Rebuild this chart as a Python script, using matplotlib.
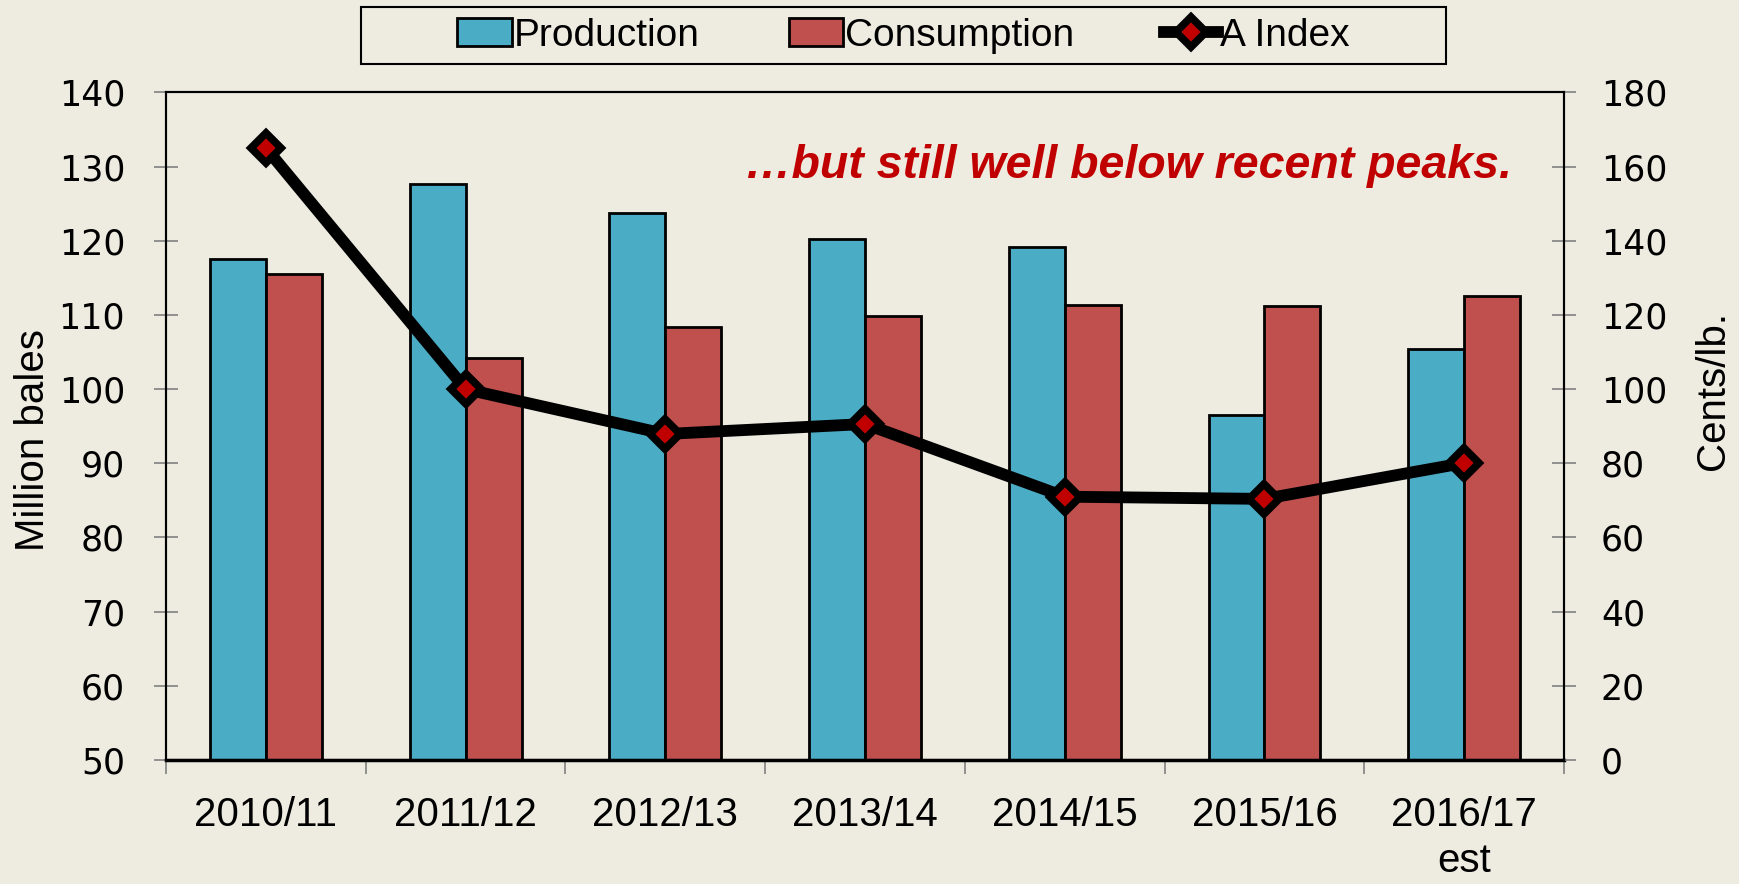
import matplotlib
matplotlib.use("Agg")
import matplotlib.pyplot as plt
import numpy as np
from matplotlib.patches import Patch, Rectangle
from matplotlib.lines import Line2D
from matplotlib.ticker import FixedLocator, NullFormatter

# data
seasons = ["2010/11", "2011/12", "2012/13", "2013/14", "2014/15", "2015/16", "2016/17\nest"]
production = [117.6, 127.6, 123.8, 120.3, 119.2, 96.5, 105.4]
consumption = [115.5, 104.2, 108.4, 109.8, 111.4, 111.2, 112.5]
a_index = [165.0, 100.0, 87.9, 90.6, 71.0, 70.4, 80.1]

bg = "#EEECE1"
blue = "#4BACC6"
red = "#C0504D"
label_font = "Liberation Sans"

fig = plt.figure(figsize=(17.39, 8.84), dpi=100, facecolor=bg)
ax = fig.add_axes([0.0955, 0.1403, 0.8039, 0.7551])
ax.set_facecolor(bg)
ax2 = ax.twinx()

x = np.arange(len(seasons))
w = 0.28
ax.bar(x - w / 2, production, w, bottom=0, color=blue, edgecolor="black", linewidth=2, zorder=2)
ax.bar(x + w / 2, consumption, w, bottom=0, color=red, edgecolor="black", linewidth=2, zorder=2)
ax.set_ylim(50, 140)
ax.set_xlim(-0.5, len(seasons) - 0.5)

ax2.plot(x, a_index, color="black", linewidth=8.5, marker="D", markersize=15,
         markerfacecolor="#C00000", markeredgecolor="black", markeredgewidth=5.5,
         solid_joinstyle="round", zorder=5)
ax2.set_ylim(0, 180)

# ticks
ax.set_yticks(np.arange(50, 141, 10))
ax2.set_yticks(np.arange(0, 181, 20))
for a in (ax, ax2):
    a.tick_params(axis="y", direction="inout", length=17, width=1.2, color="#808080",
                  labelsize=25)
    for s in a.spines.values():
        s.set_color("black")
        s.set_linewidth(1.5)
ax.tick_params(axis="y", pad=21)
ax2.tick_params(axis="y", pad=18)
ax.spines["bottom"].set_linewidth(2.5)

ax.set_xticks(x)
ax.set_xticklabels(seasons, fontsize=29, family=label_font, linespacing=1.25)
ax.tick_params(axis="x", length=0, pad=26)
ax.xaxis.set_minor_locator(FixedLocator(np.arange(-0.5, len(seasons), 1.0)))
ax.xaxis.set_minor_formatter(NullFormatter())
ax.tick_params(axis="x", which="minor", direction="out", length=10, width=1.2, color="#808080")

fig.text(0.019, 0.502, "Million bales", rotation=90, ha="center", va="center",
         fontsize=29, family=label_font)
fig.text(0.985, 0.558, "Cents/lb.", rotation=90, ha="center", va="center",
         fontsize=29, family=label_font)

ax.set_zorder(ax2.get_zorder() - 1)
ax2.patch.set_visible(False)
ax.patch.set_visible(True)

ax.text(0.963, 0.89, "\u2026but still well below recent peaks.", transform=ax.transAxes,
        ha="right", va="center", fontsize=33.5, fontweight="bold", fontstyle="italic",
        color="#C00000", family=label_font, zorder=10)

# legend box drawn on its own so it can be wider than the entries
fig.patches.append(Rectangle((0.2076, 0.9276), 0.6239, 0.0645, transform=fig.transFigure,
                             facecolor=bg, edgecolor="black", linewidth=1.5))
handles = [
    Patch(facecolor=blue, edgecolor="black", linewidth=2),
    Patch(facecolor=red, edgecolor="black", linewidth=2),
    Line2D([], [], color="black", linewidth=8.5, marker="D", markersize=15,
           markerfacecolor="#C00000", markeredgecolor="black", markeredgewidth=5.5),
]
leg = fig.legend(handles, ["Production", "Consumption", "A Index"], ncol=3,
                 loc="center", bbox_to_anchor=(0.5195, 0.9598),
                 prop={"family": label_font, "size": 28}, frameon=False,
                 handlelength=1.4, handletextpad=0.05, columnspacing=2.3,
                 borderaxespad=0)

fig.savefig("out.png", dpi=100, facecolor=bg)
